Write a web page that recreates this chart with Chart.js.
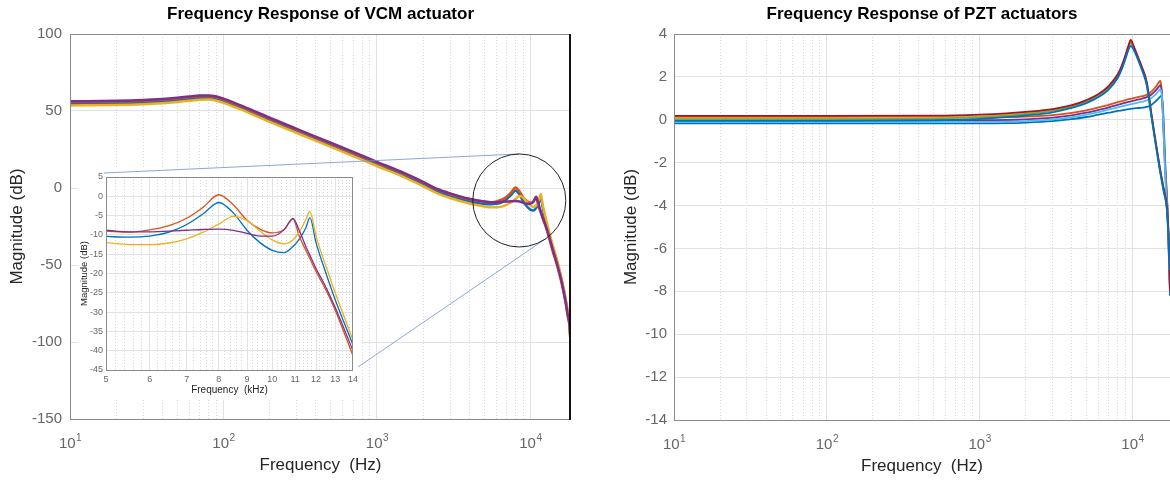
<!DOCTYPE html>
<html><head><meta charset="utf-8">
<script src="https://cdn.jsdelivr.net/npm/chart.js@4.4.0/dist/chart.umd.min.js"></script>
<style>
html,body{margin:0;padding:0;background:#fff;width:1170px;height:481px;overflow:hidden;}
canvas{position:absolute;display:block;}
</style></head><body>
<canvas id="vcm" width="590" height="481" style="left:0;top:0;width:590px;height:481px"></canvas>
<canvas id="pzt" width="580" height="481" style="left:590px;top:0;width:580px;height:481px"></canvas>
<canvas id="inset" width="284" height="232" style="left:78px;top:168px;width:284px;height:232px;background:#fff"></canvas>
<canvas id="overlay" width="590" height="481" style="left:0;top:0;width:590px;height:481px;pointer-events:none"></canvas>
<script>
const FONT = '"Liberation Sans", Arial, Helvetica, sans-serif';
const C_BLUE = '#0072BD', C_ORANGE = '#D95319', C_YELLOW = '#EDB120', C_PURPLE = '#7E2F8E',
      C_GREEN = '#77AC30', C_LBLUE = '#4DBEEE', C_DRED = '#A2142F';

// ---------- Titles / labels ----------
const VCM_TITLE = 'Frequency Response of VCM actuator';
const PZT_TITLE = 'Frequency Response of PZT actuators';
const X_TITLE = 'Frequency  (Hz)';
const Y_TITLE = 'Magnitude (dB)';
const INSET_X_TITLE = 'Frequency  (kHz)';
const X_TICK_EXPONENTS = [1, 2, 3, 4];

// ---------- VCM actuator (left) ----------
const VCM_FREQ_LOW = [10,20,30,40,50,60,70,80,90,100,120,150,200,300,500,700,1000,1500,2000,2500,3000,4000];
const ZOOM_FREQ_KHZ = [5,5.5,6,6.5,7,7.5,8,8.5,9,9.5,10,10.5,10.9,11.2,11.5,11.7,12,12.5,13,14];
const VCM_FREQ_TAIL = [15000,16000,17000,17500,18000,18200,18350];

const VCM_BLUE_LOW   = [54.7,55.0,55.5,56.2,57.0,57.8,58.4,58.5,57.8,56.4,53.4,49.4,44.0,36.8,27.8,21.8,15.4,8.2,2.4,-2.4,-5.1,-8.6];
const VCM_ORANGE_LOW = [55.8,56.1,56.6,57.3,58.1,58.9,59.5,59.6,58.9,57.5,54.5,50.5,45.1,37.9,28.9,22.9,16.5,9.3,3.6,-1.2,-3.9,-7.3];
const VCM_YELLOW_LOW = [53.6,53.9,54.4,55.1,55.9,56.7,57.3,57.4,56.7,55.3,52.3,48.3,42.9,35.7,26.7,20.7,14.3,7.1,1.2,-3.6,-6.5,-10.1];
const VCM_PURPLE_LOW = [56.3,56.6,57.1,57.8,58.6,59.4,60.0,60.1,59.4,58.0,55.0,51.0,45.6,38.4,29.4,23.4,17.0,9.8,4.0,-0.8,-3.5,-7.0];

const VCM_BLUE_ZOOM   = [-10.4,-10.6,-10.3,-9.3,-7.3,-4.5,-1.6,-4.3,-8.8,-12.0,-14.0,-14.6,-13.0,-11.0,-8.2,-5.5,-12.0,-19.8,-26.8,-38.5];
const VCM_ORANGE_ZOOM = [-9.0,-9.3,-8.7,-7.6,-5.7,-2.8,0.4,-2.2,-6.2,-8.5,-9.5,-8.6,-5.9,-10.5,-14.0,-16.2,-19.5,-24.2,-29.5,-41.3];
const VCM_YELLOW_ZOOM = [-12.0,-12.5,-12.5,-12.1,-11.0,-9.3,-7.2,-5.2,-6.3,-9.0,-11.3,-12.3,-11.3,-9.2,-6.0,-3.9,-10.3,-18.0,-25.0,-37.3];
const VCM_PURPLE_ZOOM = [-8.8,-9.2,-9.2,-9.0,-8.8,-8.6,-8.5,-8.8,-9.6,-10.3,-10.3,-8.7,-5.7,-9.0,-13.0,-15.3,-18.7,-23.5,-28.8,-40.0];

const VCM_BLUE_TAIL   = [-48.5,-60,-73,-81,-88,-96,-110];
const VCM_ORANGE_TAIL = [-51,-62,-75,-83,-90,-98,-112];
const VCM_YELLOW_TAIL = [-47.5,-59,-72,-80,-87,-95,-109];
const VCM_PURPLE_TAIL = [-50,-61,-74,-82,-89,-97,-111];

const VCM_Y_MIN = -150, VCM_Y_MAX = 100, VCM_Y_STEP = 50;
const VCM_X_MIN = 10, VCM_X_MAX = 18400;

// zoom annotation (data coordinates of the circled region)
const CIRCLE_CENTER_HZ = 8470, CIRCLE_CENTER_DB = -8.1;

// ---------- PZT actuators (right) ----------
const PZT_FREQ_A = [10,100,500,1000,1500,2000,3000,4000,5000,6000,7000,8000,8500,9000,9400,9750,10200,10800,11500,12400,13400,15100,16000,16800,17200,17600];
const PZT_DRED_A   = [0.18,0.18,0.19,0.24,0.30,0.37,0.50,0.68,0.92,1.20,1.58,2.12,2.52,3.02,3.45,3.72,3.42,2.98,2.48,1.75,0.12,-2.22,-3.20,-4.05,-5.2,-8.0];
const PZT_YELLOW_A = [0.08,0.08,0.10,0.16,0.23,0.31,0.45,0.63,0.87,1.15,1.52,2.06,2.46,2.96,3.38,3.64,3.38,2.95,2.45,1.72,0.08,-2.26,-3.24,-4.10,-5.3,-7.6];
const PZT_GREEN_A  = [0.03,0.03,0.05,0.12,0.19,0.27,0.41,0.60,0.84,1.12,1.49,2.02,2.42,2.92,3.34,3.58,3.34,2.92,2.42,1.69,0.05,-2.30,-3.28,-4.15,-5.4,-7.3];
const PZT_BLUE_A   = [-0.05,-0.05,-0.03,0.04,0.12,0.20,0.35,0.55,0.78,1.06,1.42,1.95,2.35,2.85,3.25,3.45,3.25,2.85,2.35,1.60,0.0,-2.35,-3.35,-4.20,-5.5,-7.0];

const PZT_FREQ_B = [10,100,500,1000,1500,2000,3000,4000,5000,6000,7000,8000,9000,10000,11000,12000,13000,14000,14800,15200,15550,15930,16340,17000,17600];
const PZT_ORANGE_B = [0.12,0.12,0.12,0.12,0.13,0.15,0.22,0.32,0.44,0.58,0.70,0.82,0.92,1.00,1.07,1.13,1.25,1.48,1.72,1.83,1.35,-0.2,-2.1,-4.3,-7.8];
const PZT_PURPLE_B = [-0.02,-0.02,-0.02,-0.02,-0.01,0.02,0.10,0.21,0.33,0.46,0.58,0.70,0.80,0.88,0.95,1.02,1.12,1.32,1.52,1.62,1.25,-0.3,-2.3,-4.6,-7.9];
const PZT_LBLUE_B  = [-0.10,-0.10,-0.10,-0.10,-0.09,-0.06,0.02,0.12,0.24,0.36,0.48,0.58,0.67,0.74,0.81,0.87,0.97,1.15,1.33,1.43,1.15,-0.3,-2.4,-4.7,-8.0];
const PZT_BLUE_B   = [-0.17,-0.17,-0.17,-0.17,-0.16,-0.13,-0.06,0.03,0.13,0.24,0.33,0.41,0.47,0.52,0.55,0.58,0.65,0.82,1.00,1.08,1.12,0.2,-1.8,-4.5,-8.2];

const PZT_Y_MIN = -14, PZT_Y_MAX = 4, PZT_Y_STEP = 2;
const PZT_X_MIN = 10, PZT_X_MAX = 17600;

// ---------- inset ----------
const INSET_X_MIN = 5, INSET_X_MAX = 14;
const INSET_Y_MIN = -45, INSET_Y_MAX = 5, INSET_Y_STEP = 5;

// ---------- helpers ----------
function pts(xs, ys, scale) { return xs.map((x, i) => ({x: x * (scale || 1), y: ys[i]})); }
function vcmPoints(low, zoom, tail) {
  return pts(VCM_FREQ_LOW, low).concat(pts(ZOOM_FREQ_KHZ, zoom, 1000), pts(VCM_FREQ_TAIL, tail));
}
function ds(label, color, data, width, idx, n) {
  return {label, data, borderColor: color, backgroundColor: color, borderWidth: width,
          pointRadius: 0, cubicInterpolationMode: 'monotone', fill: false, order: n - idx};
}
function logDecadeTicks(min, max) {
  const t = [];
  for (let e = 0; e < 6; e++) for (let m = 1; m < 10; m++) {
    const v = m * Math.pow(10, e);
    if (v >= min - 1e-9 && v <= max + 1e-9) t.push({value: v, major: m === 1});
  }
  return t;
}
const MAJOR_GRID = '#e2e2e2', MINOR_GRID = '#d6d6d6', FRAME = '#8a8a8a', TICK_COLOR = '#666666';

function decor(cfg) {
  return {
    id: 'decor',
    afterDraw(chart) {
      const ctx = chart.ctx, ca = chart.chartArea;
      ctx.save();
      ctx.strokeStyle = FRAME; ctx.lineWidth = 1;
      ctx.beginPath();
      ctx.moveTo(ca.left + 0.5, ca.top); ctx.lineTo(ca.left + 0.5, ca.bottom + 1);
      ctx.moveTo(ca.left, ca.bottom + 0.5); ctx.lineTo(ca.right, ca.bottom + 0.5);
      ctx.moveTo(ca.left, ca.top + 0.5); ctx.lineTo(ca.right, ca.top + 0.5);
      if (cfg.right === 'gray') { ctx.moveTo(ca.right - 0.5, ca.top); ctx.lineTo(ca.right - 0.5, ca.bottom + 1); }
      ctx.stroke();
      if (cfg.right === 'black') {
        ctx.strokeStyle = '#111'; ctx.lineWidth = 2;
        ctx.beginPath(); ctx.moveTo(ca.right - 1, ca.top); ctx.lineTo(ca.right - 1, ca.bottom + 1); ctx.stroke();
      }
      const cx = (ca.left + ca.right) / 2, cy = (ca.top + ca.bottom) / 2;
      ctx.textAlign = 'center'; ctx.textBaseline = 'alphabetic';
      if (cfg.title) {
        ctx.fillStyle = '#000'; ctx.font = 'bold ' + cfg.titleSize + 'px ' + FONT;
        ctx.fillText(cfg.title, cx, cfg.titleY);
      }
      if (cfg.xTitle) {
        ctx.fillStyle = '#262626'; ctx.font = cfg.xTitleSize + 'px ' + FONT;
        ctx.fillText(cfg.xTitle, cx, ca.bottom + cfg.xTitleDy);
      }
      if (cfg.yTitle) {
        ctx.save();
        ctx.translate(ca.left - cfg.yTitleDx, cy);
        ctx.rotate(-Math.PI / 2);
        ctx.fillStyle = '#262626'; ctx.font = cfg.yTitleSize + 'px ' + FONT; ctx.textBaseline = 'middle';
        ctx.fillText(cfg.yTitle, 0, 0);
        ctx.restore();
      }
      if (cfg.powerTicks) {
        const xs = chart.scales.x;
        ctx.fillStyle = TICK_COLOR; ctx.textAlign = 'left';
        for (const e of cfg.powerTicks) {
          const px = xs.getPixelForValue(Math.pow(10, e));
          if (px < ca.left - 1 || px > ca.right + 1) continue;
          ctx.font = '15px ' + FONT; const w1 = ctx.measureText('10').width;
          ctx.font = '10px ' + FONT; const w2 = ctx.measureText(String(e)).width;
          const x0 = px - (w1 + w2) / 2;
          const base = ca.bottom + 29;
          ctx.font = '15px ' + FONT; ctx.fillText('10', x0, base);
          ctx.font = '10px ' + FONT; ctx.fillText(String(e), x0 + w1 + 0.5, base - 7);
        }
      }
      ctx.restore();
    }
  };
}

function xLogScale(min, max, ticksFn, fontSize, showLabels) {
  return {
    type: 'logarithmic', min, max,
    afterBuildTicks: (s) => { s.ticks = ticksFn(min, max); },
    ticks: {display: !!showLabels, autoSkip: false, maxRotation: 0, padding: 4,
            color: TICK_COLOR, font: {family: FONT, size: fontSize || 9},
            callback: (v, i, t) => (t[i] && t[i].major) ? String(Math.round(v)) : ''},
    grid: {drawTicks: false, lineWidth: 1,
           color: (c) => (c.tick && c.tick.major) ? MAJOR_GRID : MINOR_GRID},
    border: {display: false, dash: (c) => (c.tick && !c.tick.major) ? [1, 2] : []}
  };
}
function yLinScale(min, max, step, fontSize, pad) {
  return {
    type: 'linear', min, max,
    ticks: {stepSize: step, color: TICK_COLOR, padding: pad, font: {family: FONT, size: fontSize}},
    grid: {drawTicks: false, color: MAJOR_GRID, lineWidth: 1},
    border: {display: false}
  };
}

// ---------- VCM chart ----------
const vcmSeries = [
  [C_BLUE, VCM_BLUE_LOW, VCM_BLUE_ZOOM, VCM_BLUE_TAIL],
  [C_ORANGE, VCM_ORANGE_LOW, VCM_ORANGE_ZOOM, VCM_ORANGE_TAIL],
  [C_YELLOW, VCM_YELLOW_LOW, VCM_YELLOW_ZOOM, VCM_YELLOW_TAIL],
  [C_PURPLE, VCM_PURPLE_LOW, VCM_PURPLE_ZOOM, VCM_PURPLE_TAIL]
];
const vcmX = xLogScale(VCM_X_MIN, VCM_X_MAX, logDecadeTicks, 15, false);
vcmX.afterFit = (s) => { s.height = 62; };
const vcmY = yLinScale(VCM_Y_MIN, VCM_Y_MAX, VCM_Y_STEP, 15, 8);
vcmY.afterFit = (s) => { s.width = 70; };
const vcm = new Chart(document.getElementById('vcm'), {
  type: 'line',
  data: {datasets: vcmSeries.map((s, i) => ds('VCM ' + (i + 1), s[0], vcmPoints(s[1], s[2], s[3]), 2.5, i, vcmSeries.length))},
  options: {
    responsive: false, animation: false, devicePixelRatio: 1, events: [],
    layout: {padding: {left: 0, right: 19, top: 34, bottom: 0}},
    plugins: {legend: {display: false}, title: {display: false}, tooltip: {enabled: false}},
    scales: {x: vcmX, y: vcmY}
  },
  plugins: [decor({right: 'black', title: VCM_TITLE, titleSize: 17, titleY: 19,
                   xTitle: X_TITLE, xTitleSize: 17, xTitleDy: 51,
                   yTitle: Y_TITLE, yTitleSize: 17, yTitleDx: 53, powerTicks: X_TICK_EXPONENTS})]
});

// ---------- PZT chart ----------
const pztSeries = [
  [C_BLUE, PZT_FREQ_B, PZT_BLUE_B],
  [C_ORANGE, PZT_FREQ_B, PZT_ORANGE_B],
  [C_YELLOW, PZT_FREQ_A, PZT_YELLOW_A],
  [C_PURPLE, PZT_FREQ_B, PZT_PURPLE_B],
  [C_GREEN, PZT_FREQ_A, PZT_GREEN_A],
  [C_LBLUE, PZT_FREQ_B, PZT_LBLUE_B],
  [C_DRED, PZT_FREQ_A, PZT_DRED_A],
  [C_BLUE, PZT_FREQ_A, PZT_BLUE_A]
];
const pztX = xLogScale(PZT_X_MIN, PZT_X_MAX, logDecadeTicks, 15, false);
pztX.afterFit = (s) => { s.height = 61; };
const pztY = yLinScale(PZT_Y_MIN, PZT_Y_MAX, PZT_Y_STEP, 15, 7);
pztY.afterFit = (s) => { s.width = 84; };
const pzt = new Chart(document.getElementById('pzt'), {
  type: 'line',
  data: {datasets: pztSeries.map((s, i) => ds('PZT ' + (i + 1), s[0], pts(s[1], s[2]), 1.8, i, pztSeries.length))},
  options: {
    responsive: false, animation: false, devicePixelRatio: 1, events: [],
    layout: {padding: {left: 0, right: 0, top: 34, bottom: 0}},
    plugins: {legend: {display: false}, title: {display: false}, tooltip: {enabled: false}},
    scales: {x: pztX, y: pztY}
  },
  plugins: [decor({right: 'none', title: PZT_TITLE, titleSize: 17, titleY: 19,
                   xTitle: X_TITLE, xTitleSize: 17, xTitleDy: 51,
                   yTitle: Y_TITLE, yTitleSize: 17, yTitleDx: 43, powerTicks: X_TICK_EXPONENTS})]
});

// ---------- Inset chart ----------
function insetTicks(min, max) {
  const t = [];
  for (let k = Math.round(min * 5); k <= Math.round(max * 5); k++) {
    const v = k / 5;
    t.push({value: v, major: k % 5 === 0});
  }
  return t;
}
const insetSeries = [
  [C_BLUE, VCM_BLUE_ZOOM], [C_ORANGE, VCM_ORANGE_ZOOM], [C_YELLOW, VCM_YELLOW_ZOOM], [C_PURPLE, VCM_PURPLE_ZOOM]
];
const insX = xLogScale(INSET_X_MIN, INSET_X_MAX, insetTicks, 9, true);
insX.afterFit = (s) => { s.height = 30; };
const insY = yLinScale(INSET_Y_MIN, INSET_Y_MAX, INSET_Y_STEP, 9, 3);
insY.afterFit = (s) => { s.width = 28; };
const inset = new Chart(document.getElementById('inset'), {
  type: 'line',
  data: {datasets: insetSeries.map((s, i) => ds('zoom ' + (i + 1), s[0], pts(ZOOM_FREQ_KHZ, s[1]), 1.3, i, insetSeries.length))},
  options: {
    responsive: false, animation: false, devicePixelRatio: 1, events: [],
    layout: {padding: {left: 0, right: 5, top: 9, bottom: 0}},
    plugins: {legend: {display: false}, title: {display: false}, tooltip: {enabled: false}},
    scales: {x: insX, y: insY}
  },
  plugins: [decor({right: 'gray', xTitle: INSET_X_TITLE, xTitleSize: 10, xTitleDy: 23,
                   yTitle: Y_TITLE, yTitleSize: 9.5, yTitleDx: 22})]
});

// ---------- zoom annotation overlay ----------
(function () {
  const o = document.getElementById('overlay').getContext('2d');
  const R = 46.5;
  const cx = vcm.scales.x.getPixelForValue(CIRCLE_CENTER_HZ);
  const cy = vcm.scales.y.getPixelForValue(CIRCLE_CENTER_DB);
  const ica = inset.chartArea, ix = 78, iy = 168;
  o.strokeStyle = '#6d8fd6'; o.lineWidth = 0.8;
  o.beginPath();
  o.moveTo(ix + ica.left - 2, iy + ica.top - 4); o.lineTo(cx, cy - R);
  const a = 55 * Math.PI / 180;
  o.moveTo(ix + ica.right + 5, iy + ica.bottom - 3); o.lineTo(cx + R * Math.cos(a), cy + R * Math.sin(a));
  o.stroke();
  o.strokeStyle = '#222'; o.lineWidth = 1;
  o.beginPath(); o.arc(cx, cy, R, 0, Math.PI * 2); o.stroke();
})();
</script>
</body></html>
